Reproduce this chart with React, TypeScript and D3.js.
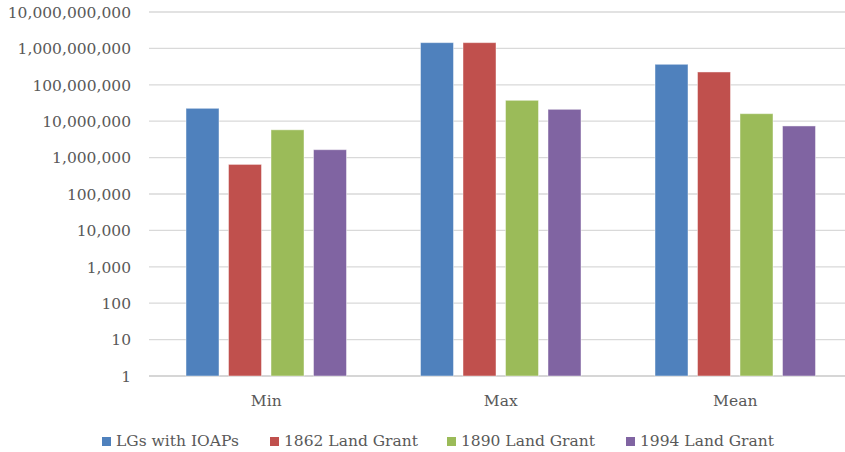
import React from "react";
import * as d3 from "d3";

const categories = ["Min", "Max", "Mean"];
const seriesNames = ["LGs with IOAPs", "1862 Land Grant", "1890 Land Grant", "1994 Land Grant"];
const lgsWithIoaps = [22600000, 1440000000, 366000000];
const landGrant1862 = [650000, 1440000000, 225000000];
const landGrant1890 = [5800000, 37500000, 16100000];
const landGrant1994 = [1650000, 21200000, 7400000];
const yTicks = [1, 10, 100, 1000, 10000, 100000, 1000000, 10000000, 100000000, 1000000000, 10000000000];
const colors = ["#4f81bd", "#c0504d", "#9bbb59", "#8064a2"];

const W = 845;
const H = 452;
const FONT = "'DejaVu Serif', serif";

export default function App() {
  const series = [lgsWithIoaps, landGrant1862, landGrant1890, landGrant1994];
  const x0 = 149;
  const step = 234.5;
  const x = d3.scaleBand<string>().domain(categories).range([x0, x0 + step * categories.length]).paddingInner(0).paddingOuter(0);
  const y = d3.scaleLog().domain([1, 1e10]).range([376, 12]);
  const barW = 33;
  const gap = 9.5;
  const groupW = barW * 4 + gap * 3;
  const fmt = d3.format(",");
  const legendX = [102, 270, 447, 626];

  return (
    <svg width={W} height={H} style={{ position: "absolute", left: 0, top: 0, background: "#fff" }}>
      {yTicks.map((t) => (
        <g key={t}>
          <line x1={x0} x2={W} y1={y(t)} y2={y(t)} stroke={t === 1 ? "#c8c8c8" : "#d9d9d9"} strokeWidth={1.3} />
          <text x={131} y={y(t)} dy="0.37em" textAnchor="end" fontFamily={FONT} fontSize={15.5} fill="#595959">
            {fmt(t)}
          </text>
        </g>
      ))}
      {categories.map((c, ci) => {
        const start = (x(c) as number) + (x.bandwidth() - groupW) / 2;
        return (
          <g key={c}>
            {series.map((s, si) => {
              const bx = start + si * (barW + gap);
              const by = y(s[ci]);
              return (
                <rect key={si} x={bx} y={by} width={barW} height={y(1) - by} fill={colors[si]} stroke="rgba(255,255,255,0.45)" strokeWidth={1} />
              );
            })}
            <text x={(x(c) as number) + x.bandwidth() / 2} y={406} textAnchor="middle" fontFamily={FONT} fontSize={15.5} fill="#595959">
              {c}
            </text>
          </g>
        );
      })}
      {seriesNames.map((n, i) => (
        <g key={n}>
          <rect x={legendX[i]} y={437} width={9} height={9} fill={colors[i]} />
          <text x={legendX[i] + 14} y={446} fontFamily={FONT} fontSize={15.5} fill="#595959">
            {n}
          </text>
        </g>
      ))}
    </svg>
  );
}
